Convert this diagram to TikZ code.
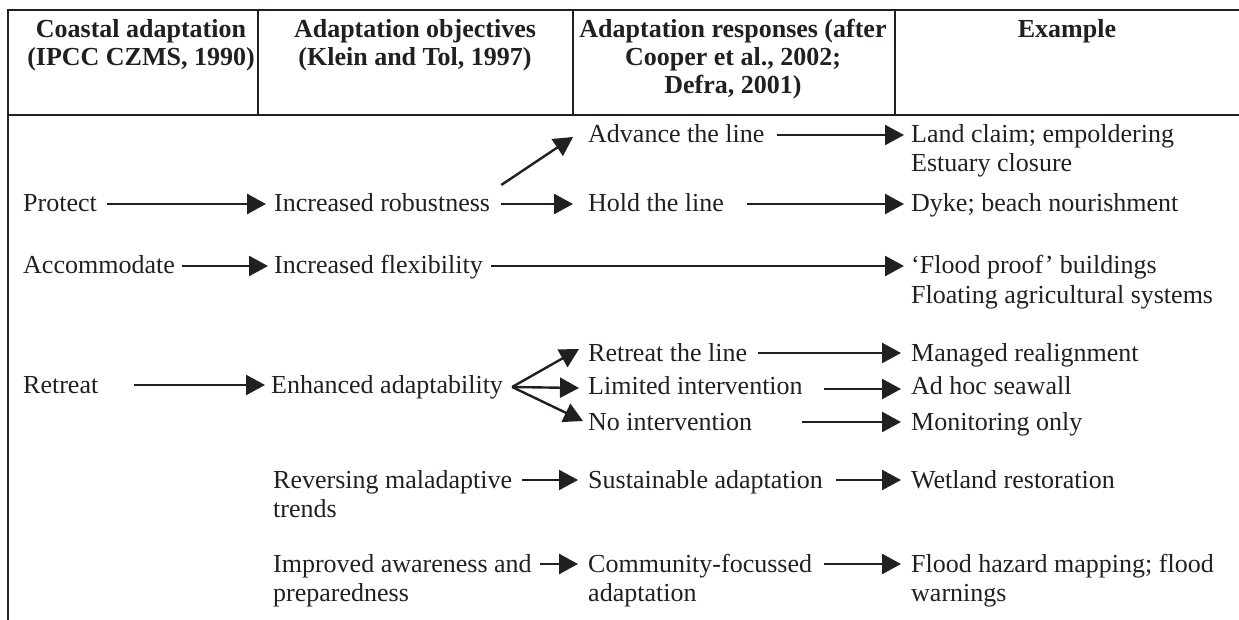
\documentclass[tikz,border=0pt]{standalone}
\usepackage{fontspec}
\setmainfont{Liberation Serif}
\usetikzlibrary{arrows.meta}
\definecolor{ink}{HTML}{231F20}
\begin{document}
\begin{tikzpicture}[x=1pt,y=-1pt,
  lbl/.style={anchor=base west,inner sep=0pt,text height=18pt,text depth=2pt,
    font=\fontsize{26}{29}\selectfont,text=ink},
  hd/.style={anchor=north,inner sep=0pt,align=center,
    font=\bfseries\fontsize{26}{28}\selectfont,text=ink},
  arr/.style={draw=ink,line width=2.4pt,-{Triangle[length=19pt,width=20pt]}},
  tabrule/.style={draw=ink,line width=2pt}]
\useasboundingbox (0,0) rectangle (1239,620);
% table frame
\draw[tabrule] (8,620) -- (8,10) -- (1239,10);
\draw[tabrule] (8,115) -- (1239,115);
\draw[tabrule] (258,10) -- (258,115);
\draw[tabrule] (573,10) -- (573,115);
\draw[tabrule] (895,10) -- (895,115);
% headers
\node[hd] (h1) at (141,19) {Coastal adaptation\\(IPCC CZMS, 1990)};
\node[hd] (h2) at (415,19) {Adaptation objectives\\(Klein and Tol, 1997)};
\node[hd] (h3) at (733,19) {Adaptation responses (after\\Cooper et al., 2002;\\Defra, 2001)};
\node[hd] (h4) at (1067,19) {Example};
% column 1
\node[lbl] (protect) at (23,212) {Protect};
\node[lbl] (accom) at (23,274) {Accommodate};
\node[lbl] (retreat) at (23,393) {Retreat};
% column 2
\node[lbl] (robust) at (274,212) {Increased robustness};
\node[lbl] (flex) at (274,274) {Increased flexibility};
\node[lbl] (enh) at (271,393) {Enhanced adaptability};
\node[lbl] (rev) at (273,488) {Reversing maladaptive};
\node[lbl] (revb) at (273,517) {trends};
\node[lbl] (imp) at (273,572) {Improved awareness and};
\node[lbl] (impb) at (273,601) {preparedness};
% column 3
\node[lbl] (adv) at (588,143) {Advance the line};
\node[lbl] (hold) at (588,212) {Hold the line};
\node[lbl] (rtl) at (588,361) {Retreat the line};
\node[lbl] (lim) at (588,394) {Limited intervention};
\node[lbl] (noi) at (588,430) {No intervention};
\node[lbl] (sust) at (588,488) {Sustainable adaptation};
\node[lbl] (comm) at (588,572) {Community-focussed};
\node[lbl] (commb) at (588,601) {adaptation};
% column 4
\node[lbl] (land) at (911,143) {Land claim; empoldering};
\node[lbl] (est) at (911,172) {Estuary closure};
\node[lbl] (dyke) at (911,212) {Dyke; beach nourishment};
\node[lbl] (fp) at (911,274) {‘Flood proof’ buildings};
\node[lbl] (flt) at (911,303) {Floating agricultural systems};
\node[lbl] (man) at (911,361) {Managed realignment};
\node[lbl] (adhoc) at (911,394) {Ad hoc seawall};
\node[lbl] (mon) at (911,430) {Monitoring only};
\node[lbl] (wet) at (911,488) {Wetland restoration};
\node[lbl] (haz) at (911,572) {Flood hazard mapping; flood};
\node[lbl] (warn) at (911,601) {warnings};
% arrows
\draw[arr] ([xshift=10pt]protect.east) -- ([xshift=-8pt]robust.west);
\draw[arr] ([xshift=7pt]accom.east) -- ([xshift=-6pt]flex.west);
\draw[arr] ([xshift=36pt]retreat.east) -- ([xshift=-6pt]enh.west);
\draw[arr] ([xshift=11pt]robust.east) -- ([xshift=-15pt]hold.west);
\draw[arr] ([xshift=11pt,yshift=19pt]robust.east) -- ([xshift=-15pt,yshift=-2pt]adv.west);
\draw[arr] ([xshift=12pt]adv.east) -- ([xshift=-7pt]land.west);
\draw[arr] ([xshift=23pt]hold.east) -- ([xshift=-7pt]dyke.west);
\draw[arr] ([xshift=8pt]flex.east) -- ([xshift=-7pt]fp.west);
\coordinate (fan) at ([xshift=9pt,yshift=-2pt]enh.east);
\draw[arr] (fan) -- ([xshift=-9pt,yshift=4pt]rtl.west);
\draw[arr] (fan) -- ([xshift=-9pt,yshift=-2pt]lim.west);
\draw[arr] (fan) -- ([xshift=-5pt,yshift=1pt]noi.west);
\draw[arr] ([xshift=11pt]rtl.east) -- ([xshift=-10pt]man.west);
\draw[arr] ([xshift=21pt,yshift=-3pt]lim.east) -- ([xshift=-10pt,yshift=-3pt]adhoc.west);
\draw[arr] ([xshift=50pt]noi.east) -- ([xshift=-10pt]mon.west);
\draw[arr] ([xshift=10pt]rev.east) -- ([xshift=-10pt]sust.west);
\draw[arr] ([xshift=13pt]sust.east) -- ([xshift=-10pt]wet.west);
\draw[arr] ([xshift=8pt]imp.east) -- ([xshift=-10pt]comm.west);
\draw[arr] ([xshift=12pt]comm.east) -- ([xshift=-10pt]haz.west);
\end{tikzpicture}
\end{document}
